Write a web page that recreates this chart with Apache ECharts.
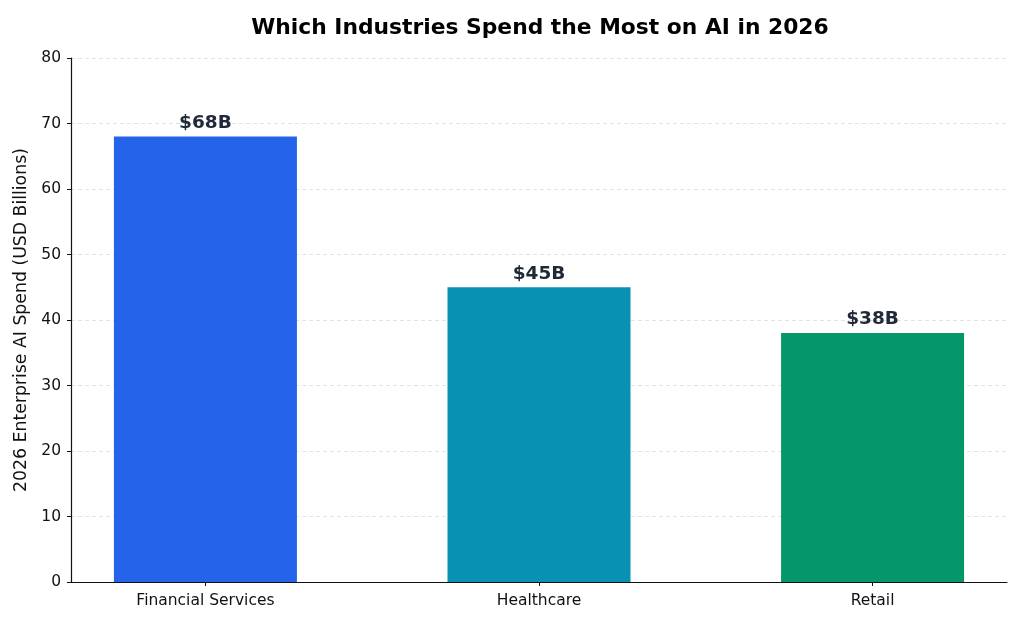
<!DOCTYPE html>
<html>
<head>
<meta charset="utf-8">
<script src="https://cdn.jsdelivr.net/npm/echarts@6/dist/echarts.min.js"></script>
<style>
  html, body { margin: 0; padding: 0; background: #fff; }
  #chart { width: 1024px; height: 626px; }
</style>
</head>
<body>
<div id="chart"></div>
<script>
// data
const industries = ['Financial Services', 'Healthcare', 'Retail'];
const spend = [68, 45, 38];
const barColors = ['#2563eb', '#0891b2', '#059669'];
const yTicks = [0, 10, 20, 30, 40, 50, 60, 70, 80];

const font = 'DejaVu Sans';

let chart = echarts.init(document.getElementById('chart'), null, { renderer: 'canvas' });

let barData = spend.map(function (v, i) {
    return { value: [i, v], itemStyle: { color: barColors[i] } };
});

let option = {
    animation: false,
    backgroundColor: '#ffffff',
    title: {
        text: 'Which Industries Spend the Most on AI in 2026',
        left: 535,
        top: 12,
        textAlign: 'center',
        textStyle: { fontFamily: font, fontSize: 21.8, fontWeight: 'bold', color: '#000' }
    },
    grid: { left: 71, right: 17, top: 58, bottom: 44 },
    xAxis: {
        type: 'value',
        min: -0.403,
        max: 2.403,
        splitLine: { show: false },
        axisLine: { show: true, onZero: false, lineStyle: { color: '#111', width: 1.2 } },
        axisTick: { show: true, length: 4, customValues: [0, 1, 2], lineStyle: { color: '#111' } },
        axisLabel: {
            customValues: [0, 1, 2],
            fontFamily: font, fontSize: 15.5, color: '#111', margin: 11,
            formatter: function (v) { return industries[Math.round(v)]; }
        }
    },
    yAxis: {
        type: 'value',
        min: 0,
        max: 80,
        interval: 10,
        name: '2026 Enterprise AI Spend (USD Billions)',
        nameLocation: 'middle',
        nameGap: 37,
        nameTextStyle: { fontFamily: font, fontSize: 17.3, color: '#111' },
        axisLine: { show: true, onZero: false, lineStyle: { color: '#111', width: 1.2 } },
        axisTick: { show: true, length: 4, lineStyle: { color: '#111' } },
        axisLabel: {
            fontFamily: font, fontSize: 15.5, color: '#111', margin: 10,
            formatter: function (v) { return yTicks.indexOf(v) >= 0 ? String(v) : ''; }
        },
        splitLine: { show: true, lineStyle: { color: '#e3e3e3', type: [4, 3], width: 1 } }
    },
    series: [{
        type: 'bar',
        barWidth: 183,
        data: barData,
        label: {
            show: true,
            position: 'top',
            distance: 4,
            fontFamily: font,
            fontSize: 18.5,
            fontWeight: 'bold',
            color: '#1f2937',
            formatter: function (p) { return '$' + p.value[1] + 'B'; }
        }
    }]
};

chart.setOption(option);
</script>
</body>
</html>
